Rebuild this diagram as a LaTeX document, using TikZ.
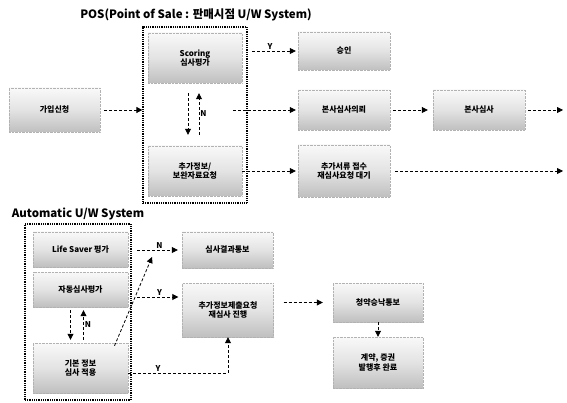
\documentclass[tikz,border=0pt]{standalone}
\usepackage{fontspec}
\setmainfont{Noto Sans CJK KR}
\usetikzlibrary{arrows.meta}
\begin{document}
\begin{tikzpicture}[
        x=1pt, y=-1pt,
        ubox/.style={rectangle, draw=gray!60, densely dotted, top color=gray!5, bottom color=gray!50, middle color=gray!22, align=center, inner sep=1pt, font=\fontsize{8}{9.5}\selectfont\bfseries},
        frame/.style={rectangle, draw=black, line width=1.3pt, dash pattern=on 1pt off 0.8pt},
        flow/.style={densely dashed, thick, -{Triangle[length=6pt,width=6pt]}},
        tag/.style={font=\fontsize{8}{9}\selectfont\bfseries, inner sep=1pt},
        title/.style={font=\fontsize{11.5}{13}\selectfont\bfseries},
        ]
        \useasboundingbox (0,0) rectangle (567,403);

        % POS U/W System
        \node[title] (postitle) at (196,15) {POS(Point of Sale : 판매시점 U/W System)};
        \node[frame, minimum width=104pt, minimum height=176pt] (pos) at (195,115) {};
        \node[ubox, minimum width=91pt, minimum height=44pt] (apply) at (54.5,110) {가입신청};
        \node[ubox, minimum width=94pt, minimum height=50pt] (scoring) at (195,58) {Scoring\\심사평가};
        \node[ubox, minimum width=94pt, minimum height=50pt] (addinfo) at (195,171) {추가정보/\\보완자료요청};
        \node[ubox, minimum width=92pt, minimum height=38pt] (approve) at (344,51) {승인};
        \node[ubox, minimum width=92pt, minimum height=40pt] (hqreq) at (344,110) {본사심사의뢰};
        \node[ubox, minimum width=92pt, minimum height=40pt] (hqrev) at (479,110) {본사심사};
        \node[ubox, minimum width=92pt, minimum height=52pt] (resub) at (344,171) {추가서류 접수\\재심사요청 대기};
        \coordinate (posmid) at (233,110);
        \coordinate (endmid) at (563,110);
        \coordinate (endlow) at (563,171);

        \draw[flow, shorten <=4pt] (apply.east) -- (apply.east -| pos.west);
        \draw[flow, shorten <=10pt, shorten >=2pt] (approve.west -| scoring.east) -- node[tag, above] {Y} (approve.west);
        \draw[flow] ([xshift=-7pt,yshift=-10pt]scoring.south) -- ([xshift=-7pt,yshift=11pt]addinfo.north);
        \draw[flow] ([xshift=4pt,yshift=11pt]addinfo.north) -- node[tag, right] {N} ([xshift=4pt,yshift=-10pt]scoring.south);
        \draw[flow, shorten >=2pt] (posmid) -- (hqreq.west);
        \draw[flow, shorten >=2pt] (addinfo.east |- resub.west) -- (resub.west);
        \draw[flow, shorten <=3pt, shorten >=5pt] (hqreq.east) -- (hqrev.west);
        \draw[flow, shorten <=3pt] (hqrev.east) -- (endmid);
        \draw[flow, shorten <=5pt] (resub.east) -- (endlow);

        % Automatic U/W System
        \node[title] (autotitle) at (78,214) {Automatic U/W System};
        \node[frame, minimum width=106pt, minimum height=176pt] (auto) at (78,312) {};
        \node[ubox, minimum width=95pt, minimum height=35pt] (lifesaver) at (80.5,249.5) {Life Saver 평가};
        \node[ubox, minimum width=95pt, minimum height=35pt] (autoscore) at (80.5,289.5) {자동심사평가};
        \node[ubox, minimum width=95pt, minimum height=50pt] (basic) at (80.5,368) {기본 정보\\심사 적용};
        \node[ubox, minimum width=91pt, minimum height=36pt] (result) at (227.5,250) {심사결과통보};
        \node[ubox, minimum width=91pt, minimum height=54pt] (addreq) at (228,310) {추가정보제출요청\\재심사 진행};
        \node[ubox, minimum width=90pt, minimum height=39pt] (notify) at (378,302.5) {청약승낙통보};
        \node[ubox, minimum width=90pt, minimum height=51pt] (issue) at (378,362.5) {계약, 증권\\발행후 완료};
        \coordinate (nbranch) at (137,250);
        \coordinate (ybranch) at (137,297);
        \coordinate (diagtip) at (152,257);

        \draw[flow] ([xshift=-10pt,yshift=-3pt]autoscore.south) -- ([xshift=-10pt,yshift=3pt]basic.north);
        \draw[flow] ([xshift=3pt,yshift=3pt]basic.north) -- node[tag, right] {N} ([xshift=3pt,yshift=-3pt]autoscore.south);
        \draw[flow, shorten >=4pt] (nbranch) -- node[tag, above] {N} (result.west);
        \draw[flow, shorten >=4pt] (ybranch) -- node[tag, above] {Y} (ybranch -| addreq.west);
        \draw[flow] ([xshift=34pt,yshift=-3pt]basic.north) -- (diagtip);
        \draw[flow] ([yshift=-5pt]basic.east) -- node[tag, above, pos=0.3] {Y} ([yshift=-5pt]basic.east -| addreq.south) -- (addreq.south);
        \draw[flow, shorten <=10pt, shorten >=10pt] (notify.west -| addreq.east) -- (notify.west);
        \draw[flow] (notify.south) -- (issue.north);

    \end{tikzpicture}
\end{document}
